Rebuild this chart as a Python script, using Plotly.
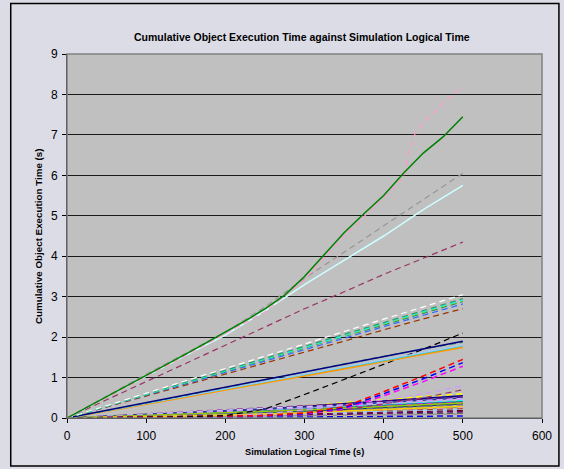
import plotly.graph_objects as go

# ---------------- data ----------------
x_std = [0, 50, 100, 150, 200, 250, 300, 350, 400, 450, 500]

x_green = [0, 25, 50, 75, 100, 125, 150, 175, 200, 225, 250, 275, 300, 325, 350, 375, 400, 425, 450, 475, 500]
y_green = [0, 0.26, 0.52, 0.79, 1.05, 1.32, 1.58, 1.85, 2.12, 2.4, 2.7, 3.04, 3.5, 4.04, 4.58, 5.05, 5.5, 6.05, 6.55, 6.95, 7.45]

x_pink = [0, 50, 100, 150, 200, 250, 300, 350, 400, 425, 432, 440, 450, 475, 500]
y_pink = [0, 0.5, 1.02, 1.55, 2.08, 2.62, 3.42, 4.5, 5.45, 5.95, 6.6, 7.05, 7.3, 7.78, 8.2]

y_gray = [0, 0.55, 1.08, 1.6, 2.12, 2.75, 3.45, 4.1, 4.75, 5.4, 6.05]
y_lightcyan = [0, 0.52, 1.03, 1.55, 2.05, 2.65, 3.3, 3.9, 4.5, 5.15, 5.75]
y_plum = [0, 0.45, 0.9, 1.35, 1.8, 2.25, 2.7, 3.12, 3.55, 3.95, 4.35]

# bundle near 3
y_b3_white = [0, 0.3, 0.61, 0.92, 1.22, 1.53, 1.83, 2.14, 2.44, 2.75, 3.05]
y_b3_green = [0, 0.3, 0.59, 0.89, 1.18, 1.48, 1.77, 2.07, 2.36, 2.66, 2.95]
y_b3_cyan = [0, 0.29, 0.58, 0.88, 1.17, 1.46, 1.75, 2.04, 2.34, 2.63, 2.92]
y_b3_lime = [0, 0.29, 0.58, 0.87, 1.16, 1.45, 1.74, 2.03, 2.32, 2.61, 2.9]
y_b3_teal = [0, 0.29, 0.58, 0.86, 1.15, 1.44, 1.73, 2.02, 2.3, 2.59, 2.88]
y_b3_blue = [0, 0.28, 0.56, 0.85, 1.13, 1.41, 1.69, 1.97, 2.26, 2.54, 2.82]
y_b3_brown = [0, 0.27, 0.54, 0.82, 1.09, 1.36, 1.63, 1.9, 2.18, 2.45, 2.7]

# bundle near 1.8
y_b2_navy = [0, 0.19, 0.38, 0.57, 0.76, 0.95, 1.14, 1.33, 1.52, 1.71, 1.9]
y_b2_green = [0, 0.18, 0.37, 0.56, 0.75, 0.94, 1.14, 1.34, 1.53, 1.71, 1.87]
y_b2_skyblue = [0, 0.18, 0.36, 0.54, 0.72, 0.9, 1.08, 1.26, 1.44, 1.62, 1.8]
y_b2_aqua = [0, 0.18, 0.355, 0.53, 0.71, 0.89, 1.07, 1.25, 1.42, 1.6, 1.78]
y_b2_orange = [0, 0.17, 0.35, 0.52, 0.7, 0.87, 1.05, 1.22, 1.4, 1.57, 1.75]

# late risers
y_black = [0, 0.01, 0.02, 0.03, 0.06, 0.22, 0.58, 0.95, 1.32, 1.7, 2.1]
y_red = [0, 0.01, 0.02, 0.03, 0.04, 0.06, 0.12, 0.28, 0.65, 1.04, 1.45]
y_blue = [0, 0.01, 0.02, 0.03, 0.04, 0.06, 0.11, 0.25, 0.6, 0.97, 1.37]
y_magenta = [0, 0.01, 0.02, 0.03, 0.04, 0.05, 0.1, 0.22, 0.55, 0.9, 1.28]
y_lavender = [0, 0.01, 0.02, 0.04, 0.06, 0.1, 0.2, 0.33, 0.45, 0.6, 0.8]
y_maroon = [0, 0.01, 0.02, 0.03, 0.05, 0.08, 0.12, 0.2, 0.35, 0.5, 0.7]

# low bundle
low_colors = ["#FFFF00", "#000080", "#800080", "#333399", "#CCCCFF", "#00FFFF", "#008080",
              "#FF00FF", "#003366", "#FF6600", "#00CCFF", "#339966", "#FF99CC", "#993300",
              "#99CCFF", "#800000", "#FFFFFF", "#000000", "#969696", "#FFCC99", "#0000FF",
              "#CC99FF", "#99CC00", "#666699", "#FFCC00", "#660066"]
low_values = [
    [0, 0.03, 0.06, 0.1, 0.14, 0.2, 0.3, 0.38, 0.46, 0.53, 0.6],
    [0, 0.04, 0.08, 0.12, 0.17, 0.22, 0.28, 0.35, 0.42, 0.48, 0.55],
    [0, 0.05, 0.1, 0.14, 0.19, 0.24, 0.29, 0.35, 0.41, 0.46, 0.52],
    [0, 0.04, 0.09, 0.13, 0.18, 0.22, 0.27, 0.32, 0.38, 0.44, 0.5],
    [0, 0.05, 0.1, 0.15, 0.2, 0.24, 0.28, 0.32, 0.38, 0.43, 0.48],
    [0, 0.03, 0.07, 0.11, 0.15, 0.19, 0.23, 0.28, 0.33, 0.38, 0.43],
    [0, 0.03, 0.06, 0.1, 0.13, 0.17, 0.21, 0.26, 0.31, 0.36, 0.4],
    [0, 0.02, 0.05, 0.08, 0.11, 0.15, 0.2, 0.25, 0.3, 0.35, 0.38],
    [0, 0.02, 0.05, 0.08, 0.1, 0.13, 0.17, 0.21, 0.26, 0.3, 0.35],
    [0, 0.02, 0.04, 0.07, 0.1, 0.12, 0.15, 0.19, 0.23, 0.28, 0.32],
    [0, 0.03, 0.05, 0.08, 0.1, 0.13, 0.16, 0.19, 0.22, 0.26, 0.3],
    [0, 0.02, 0.04, 0.06, 0.09, 0.11, 0.14, 0.17, 0.2, 0.24, 0.28],
    [0, 0.02, 0.04, 0.06, 0.08, 0.1, 0.13, 0.16, 0.19, 0.22, 0.25],
    [0, 0.01, 0.03, 0.05, 0.07, 0.09, 0.12, 0.14, 0.17, 0.2, 0.22],
    [0, 0.02, 0.04, 0.06, 0.08, 0.1, 0.12, 0.14, 0.16, 0.18, 0.2],
    [0, 0.01, 0.02, 0.04, 0.05, 0.07, 0.09, 0.11, 0.13, 0.15, 0.18],
    [0, 0.01, 0.02, 0.03, 0.04, 0.06, 0.07, 0.09, 0.11, 0.13, 0.15],
    [0, 0.01, 0.02, 0.03, 0.04, 0.05, 0.06, 0.07, 0.08, 0.1, 0.12],
    [0, 0.01, 0.01, 0.02, 0.03, 0.04, 0.05, 0.06, 0.07, 0.08, 0.1],
    [0, 0.01, 0.01, 0.02, 0.02, 0.03, 0.04, 0.05, 0.05, 0.06, 0.07],
    [0, 0.0, 0.01, 0.01, 0.02, 0.02, 0.03, 0.03, 0.04, 0.04, 0.05],
    [0, 0.04, 0.08, 0.12, 0.16, 0.2, 0.25, 0.31, 0.37, 0.42, 0.47],
    [0, 0.03, 0.06, 0.09, 0.12, 0.16, 0.2, 0.24, 0.28, 0.33, 0.37],
    [0, 0.02, 0.04, 0.07, 0.1, 0.13, 0.16, 0.2, 0.24, 0.28, 0.33],
    [0, 0.01, 0.03, 0.05, 0.07, 0.1, 0.13, 0.17, 0.21, 0.25, 0.29],
    [0, 0.01, 0.02, 0.03, 0.05, 0.06, 0.08, 0.1, 0.12, 0.14, 0.16],
]

x_ticks = [0, 100, 200, 300, 400, 500, 600]
y_ticks = [0, 1, 2, 3, 4, 5, 6, 7, 8, 9]

title_text = "Cumulative Object Execution Time against Simulation Logical Time"
x_title = "Simulation Logical Time (s)"
y_title = "Cumulative Object Execution Time (s)"

# ---------------- figure ----------------
fig = go.Figure()
DASH = "6px,4px"
dashes = [DASH, "solid", DASH, "solid", DASH, DASH, "solid", DASH, "solid", DASH,
          DASH, "solid", DASH, DASH, "solid", DASH, DASH, DASH, "solid", DASH,
          DASH, DASH, "solid", DASH, "solid", DASH]


def add(x, y, color, dash="solid", width=1):
    fig.add_trace(go.Scatter(x=x, y=y, mode="lines", line=dict(color=color, dash=dash, width=width),
                             showlegend=False, hoverinfo="skip"))


for vals, col, d in zip(low_values, low_colors, dashes):
    add(x_std, vals, col, d, 1.5)

add(x_std, y_maroon, "#993366", DASH, 1.2)
add(x_std, y_lavender, "#CC99FF", DASH, 1.2)
add(x_std, y_magenta, "#FF00FF", DASH, 1.5)
add(x_std, y_blue, "#0000FF", DASH, 1.5)
add(x_std, y_red, "#FF0000", DASH, 1.5)
add(x_std, y_black, "#000000", DASH, 1.2)

add(x_std, y_b2_orange, "#FF9900", "solid", 2)
add(x_std, y_b2_aqua, "#33CCCC", "solid", 1.2)
add(x_std, y_b2_skyblue, "#99CCFF", "solid", 1.2)
add(x_std, y_b2_green, "#339966", DASH, 1.2)
add(x_std, y_b2_navy, "#000080", "solid", 1.5)

add(x_std, y_b3_brown, "#993300", DASH, 1.2)
add(x_std, y_b3_blue, "#3366FF", DASH, 1.2)
add(x_std, y_b3_teal, "#008080", DASH, 1.2)
add(x_std, y_b3_lime, "#99CC00", DASH, 1.2)
add(x_std, y_b3_cyan, "#00FFFF", DASH, 1.2)
add(x_std, y_b3_green, "#339966", DASH, 1.2)
add(x_std, y_b3_white, "#FFFFFF", DASH, 1.2)

add(x_std, y_plum, "#993366", DASH, 1.2)
add(x_std, y_lightcyan, "#CCFFFF", "solid", 1.5)
add(x_std, y_gray, "#969696", DASH, 1.2)
add(x_pink, y_pink, "#FF99CC", DASH, 1.2)
add(x_green, y_green, "#008000", "solid", 1.5)

L, R, T, B = 67, 20, 54, 51
W, H = 564, 469
pw, ph = W - L - R, H - T - B


def px(xp):
    return (xp - L) / pw


def py(yp):
    return (H - B - yp) / ph


fig.update_layout(
    width=W, height=H,
    margin=dict(l=L, r=R, t=T, b=B),
    paper_bgcolor="#DCDCE6",
    plot_bgcolor="#C0C0C0",
    font=dict(family="Liberation Sans, Arial, sans-serif", color="#000000"),
    xaxis=dict(range=[0, 600], tickvals=x_ticks, ticks="outside", ticklen=4, tickcolor="#000000",
               showgrid=False, zeroline=False, showline=True, linecolor="#000000", linewidth=1,
               tickfont=dict(size=12), ticklabelstandoff=3, fixedrange=True),
    yaxis=dict(range=[0, 9], tickvals=y_ticks, ticks="outside", ticklen=4, tickcolor="#000000",
               showgrid=True, gridcolor="#1A1A1A", gridwidth=1.3, zeroline=False,
               showline=True, linecolor="#000000", linewidth=1,
               tickfont=dict(size=12), ticklabelstandoff=2, fixedrange=True),
    shapes=[
        dict(type="rect", xref="paper", yref="paper", x0=0, x1=1, y0=0, y1=1,
             line=dict(color="#808080", width=1.5), layer="above"),
        dict(type="rect", xref="paper", yref="paper", x0=px(10.5), x1=px(561), y0=py(466), y1=py(3.5),
             line=dict(color="#000000", width=1.5), layer="above"),
    ],
    annotations=[
        dict(text="<b>" + title_text + "</b>", xref="paper", yref="paper", x=px(303), y=py(37),
             showarrow=False, font=dict(size=10.5), xanchor="center", yanchor="middle"),
        dict(text="<b>" + x_title + "</b>", xref="paper", yref="paper", x=px(306), y=py(452),
             showarrow=False, font=dict(size=9.2), xanchor="center", yanchor="middle"),
        dict(text="<b>" + y_title + "</b>", xref="paper", yref="paper", x=px(38), y=py(236),
             showarrow=False, font=dict(size=9.8), textangle=-90, xanchor="center", yanchor="middle"),
    ],
)

fig.write_html("out.html", config={"displayModeBar": False},
               post_script="document.body.style.margin='0';document.body.style.background='#DCDCE6';")
